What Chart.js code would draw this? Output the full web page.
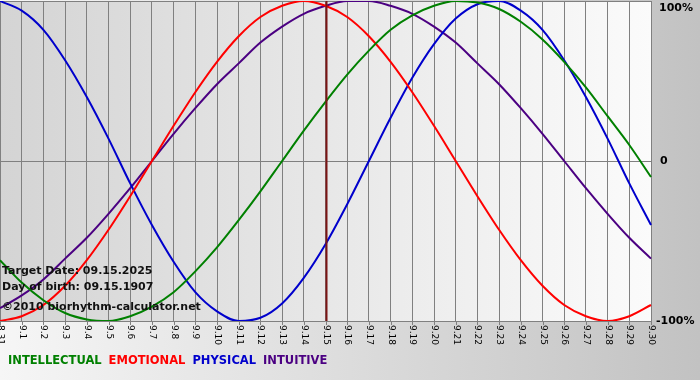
<!DOCTYPE html>
<html lang="en">
<head>
    <meta charset="UTF-8">
    <title>Biorhythm</title>
    <style>
        body {
            margin: 0;
            padding: 0;
            background-color: #ffffff;
        }
        #wrap {
            width: 700px;
            height: 380px;
        }
    </style>
</head>
<body>
    <div id="wrap">
        <canvas id="bio-chart" width="700" height="380"></canvas>
    </div>

    <script src="https://cdn.jsdelivr.net/npm/chart.js"></script>
    <script>
        // Dias do eixo x (rótulos)
        const dayLabels = ['8.31', '9.1', '9.2', '9.3', '9.4', '9.5', '9.6', '9.7', '9.8', '9.9', '9.10',
            '9.11', '9.12', '9.13', '9.14', '9.15', '9.16', '9.17', '9.18', '9.19', '9.20',
            '9.21', '9.22', '9.23', '9.24', '9.25', '9.26', '9.27', '9.28', '9.29', '9.30'];

        // Valores (-1 .. 1)
        const intellectual = [-0.62, -0.76, -0.87, -0.95, -0.99, -1.00, -0.97, -0.91, -0.82, -0.69, -0.54,
            -0.37, -0.19, 0.00, 0.19, 0.37, 0.54, 0.69, 0.82, 0.91, 0.97,
            1.00, 0.99, 0.95, 0.87, 0.76, 0.62, 0.46, 0.28, 0.10, -0.10];
        const emotional = [-1.00, -0.97, -0.90, -0.78, -0.62, -0.43, -0.22, 0.00, 0.22, 0.43, 0.62,
            0.78, 0.90, 0.97, 1.00, 0.97, 0.90, 0.78, 0.62, 0.43, 0.22,
            0.00, -0.22, -0.43, -0.62, -0.78, -0.90, -0.97, -1.00, -0.97, -0.90];
        const physical = [1.00, 0.94, 0.82, 0.63, 0.40, 0.14, -0.14, -0.40, -0.63, -0.82, -0.94,
            -1.00, -0.98, -0.89, -0.73, -0.52, -0.27, 0.00, 0.27, 0.52, 0.73,
            0.89, 0.98, 1.00, 0.94, 0.82, 0.63, 0.40, 0.14, -0.14, -0.40];
        const intuitive = [-0.92, -0.84, -0.74, -0.61, -0.48, -0.33, -0.17, 0.00, 0.17, 0.33, 0.48,
            0.61, 0.74, 0.84, 0.92, 0.97, 1.00, 1.00, 0.97, 0.92, 0.84,
            0.74, 0.61, 0.48, 0.33, 0.17, 0.00, -0.17, -0.33, -0.48, -0.61];

        const targetIndex = 15;
        const yTickLabels = ['100%', '0', '-100%'];
        const yTickValues = [1, 0, -1];
        const infoLines = ['Target Date: 09.15.2025', 'Day of birth: 09.15.1907', '\u00a92010 biorhythm-calculator.net'];
        const legendNames = ['INTELLECTUAL', 'EMOTIONAL', 'PHYSICAL', 'INTUITIVE'];
        const legendColors = ['#008000', '#ff0000', '#0000cc', '#4b0082'];

        const FONT = '"DejaVu Sans", Verdana, sans-serif';

        // Fundo, linha da data alvo e textos
        const bioPlugin = {
            id: 'bioPlugin',
            beforeDraw(chart) {
                const ctx = chart.ctx;
                const area = chart.chartArea;
                ctx.save();
                let g = ctx.createLinearGradient(0, 0, chart.width, 0);
                g.addColorStop(0, '#f6f6f6');
                g.addColorStop(1, '#c2c2c2');
                ctx.fillStyle = g;
                ctx.fillRect(0, 0, chart.width, chart.height);

                g = ctx.createLinearGradient(area.left, 0, area.right, 0);
                g.addColorStop(0, '#d4d4d4');
                g.addColorStop(1, '#fbfbfb');
                ctx.fillStyle = g;
                ctx.fillRect(area.left, area.top, area.right - area.left, area.bottom - area.top);
                ctx.restore();
            },
            afterDatasetsDraw(chart) {
                const ctx = chart.ctx;
                const area = chart.chartArea;
                const x = Math.round(chart.scales.x.getPixelForValue(targetIndex)) + 0.5;
                ctx.save();
                ctx.strokeStyle = '#7a1414';
                ctx.lineWidth = 2;
                ctx.beginPath();
                ctx.moveTo(x, area.top);
                ctx.lineTo(x, area.bottom);
                ctx.stroke();
                ctx.restore();
            },
            afterDraw(chart) {
                const ctx = chart.ctx;
                const area = chart.chartArea;
                const xs = chart.scales.x;
                const ys = chart.scales.y;
                ctx.save();

                // marcas e rótulos do eixo x (girados no sentido horário)
                ctx.strokeStyle = '#808080';
                ctx.lineWidth = 1;
                ctx.font = '9px ' + FONT;
                ctx.fillStyle = '#000000';
                dayLabels.forEach((lab, i) => {
                    const px = Math.round(xs.getPixelForValue(i)) + 0.5;
                    ctx.beginPath();
                    ctx.moveTo(px, area.bottom);
                    ctx.lineTo(px, area.bottom + 4);
                    ctx.stroke();
                    ctx.save();
                    ctx.translate(px, area.bottom + 4);
                    ctx.rotate(Math.PI / 2);
                    ctx.textAlign = 'left';
                    ctx.textBaseline = 'middle';
                    ctx.fillText(lab, 0, 0);
                    ctx.restore();
                });

                // rótulos do eixo y à direita
                ctx.font = 'bold 11px ' + FONT;
                ctx.textAlign = 'left';
                ctx.textBaseline = 'middle';
                yTickLabels.forEach((lab, i) => {
                    let py = ys.getPixelForValue(yTickValues[i]);
                    if (i === 0) py += 7;
                    const px = lab === '0' ? area.right + 9 : (lab === '-100%' ? area.right + 5 : area.right + 8);
                    ctx.fillText(lab, px, py);
                });

                // informações no canto inferior esquerdo
                ctx.fillStyle = '#111111';
                ctx.fillText(infoLines[0], 2, area.bottom - 50);
                ctx.fillText(infoLines[1], 2, area.bottom - 34);
                ctx.fillText(infoLines[2], 2, area.bottom - 14);

                // legenda
                ctx.font = 'bold 11.5px ' + FONT;
                let lx = 8;
                legendNames.forEach((name, i) => {
                    ctx.fillStyle = legendColors[i];
                    ctx.fillText(name, lx, 361);
                    lx += ctx.measureText(name).width + 7;
                });
                ctx.restore();
            }
        };

        function makeSet(label, data, color) {
            return {
                label: label,
                data: data,
                borderColor: color,
                borderWidth: 2,
                pointRadius: 0,
                cubicInterpolationMode: 'monotone',
                fill: false
            };
        }

        const bioChart = new Chart(document.getElementById('bio-chart').getContext('2d'), {
            type: 'line',
            data: {
                labels: dayLabels,
                datasets: [
                    makeSet('INTELLECTUAL', intellectual, legendColors[0]),
                    makeSet('EMOTIONAL', emotional, legendColors[1]),
                    makeSet('PHYSICAL', physical, legendColors[2]),
                    makeSet('INTUITIVE', intuitive, legendColors[3])
                ]
            },
            options: {
                responsive: false,
                animation: false,
                layout: {
                    padding: { left: 0, right: 49, top: 1, bottom: 59 }
                },
                plugins: {
                    legend: { display: false },
                    tooltip: { enabled: false }
                },
                scales: {
                    x: {
                        offset: false,
                        ticks: { display: false },
                        border: { display: false },
                        grid: { color: '#808080', lineWidth: 1, drawTicks: false }
                    },
                    y: {
                        position: 'right',
                        min: -1,
                        max: 1,
                        ticks: { display: false, stepSize: 1 },
                        border: { display: false },
                        grid: { color: '#808080', lineWidth: 1, drawTicks: false }
                    }
                }
            },
            plugins: [bioPlugin]
        });
    </script>
</body>
</html>
